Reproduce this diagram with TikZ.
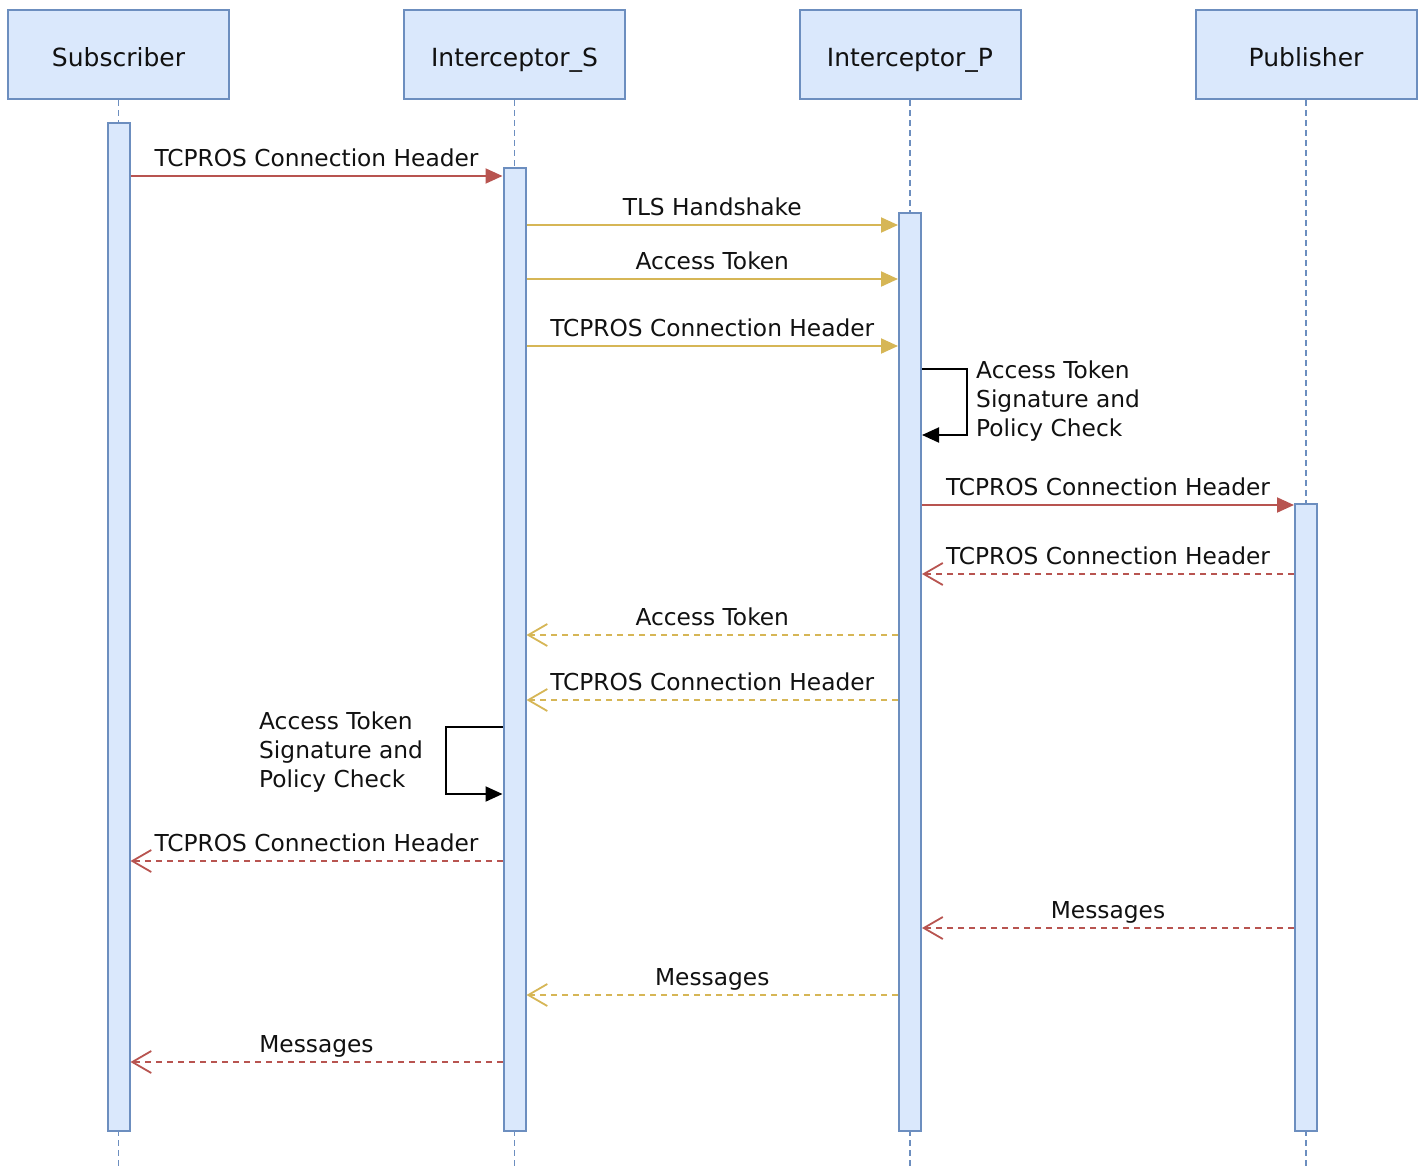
\documentclass[tikz,border=0pt]{standalone}
\usepackage{fontspec}
\setmainfont{DejaVu Sans}
\usetikzlibrary{arrows.meta}
\definecolor{boxfill}{HTML}{DAE8FC}
\definecolor{boxline}{HTML}{6C8EBF}
\definecolor{msgred}{HTML}{B85450}
\definecolor{msgyel}{HTML}{D6B656}
\definecolor{txt}{HTML}{111111}

\begin{document}
\begin{tikzpicture}[x=1pt,y=-1pt,
  actor/.style={draw=boxline, fill=boxfill, line width=2pt, minimum width=221pt,
    minimum height=89pt, inner sep=0pt, text=txt, text height=26pt, text depth=3pt,
    font=\fontsize{25}{30}\selectfont},
  actbar/.style={draw=boxline, fill=boxfill, line width=2pt, minimum width=22pt,
    inner sep=0pt, anchor=north},
  life/.style={boxline, line width=1.8pt, dash pattern=on 6pt off 4pt},
  call/.style={line width=2pt, -{Triangle[length=17pt,width=15pt]}},
  reply/.style={line width=1.8pt, dash pattern=on 6pt off 5pt,
    -{Straight Barb[length=19pt,width=22pt,line width=1.8pt]}},
  lbl/.style={font=\fontsize{23.3}{29}\selectfont, text=txt, anchor=base,
    inner sep=0pt, yshift=10pt},
  note/.style={font=\fontsize{23.3}{29}\selectfont, text=txt, align=left,
    inner sep=0pt, anchor=north west}
]
\useasboundingbox (0,0) rectangle (1421,1167);

% participants
\node[actor] (hSub) at (118.5,54.5) {Subscriber};
\node[actor] (hIS)  at (514.5,54.5) {Interceptor\_S};
\node[actor] (hIP)  at (910,54.5)   {Interceptor\_P};
\node[actor] (hPub) at (1306,54.5)  {Publisher};

% lifelines
\foreach \h in {hSub,hIS,hIP,hPub}
  \draw[life] (\h.south) -- (\h.south |- 0,1167);

% activation bars
\node[actbar, minimum height=1008pt] (barSub) at (118.5,122) {};
\node[actbar, minimum height=963pt]  (barIS)  at (514.5,167) {};
\node[actbar, minimum height=918pt]  (barIP)  at (910,212)   {};
\node[actbar, minimum height=627pt]  (barPub) at (1306,503)  {};

% requests
\draw[call, msgred] (barSub.east |- 0,176) -- node[lbl] {TCPROS Connection Header} (barIS.west |- 0,176);
\draw[call, msgyel] (barIS.east |- 0,225) -- node[lbl] {TLS Handshake} (barIP.west |- 0,225);
\draw[call, msgyel] (barIS.east |- 0,279) -- node[lbl] {Access Token} (barIP.west |- 0,279);
\draw[call, msgyel] (barIS.east |- 0,346) -- node[lbl] {TCPROS Connection Header} (barIP.west |- 0,346);

% check at Interceptor_P
\draw[call, black] (barIP.east |- 0,369) -- ++(45,0) |- (barIP.east |- 0,435);
\node[note] (chkP) at (976,361) {Access Token\\Signature and\\Policy Check};

\draw[call, msgred] (barIP.east |- 0,505) -- node[lbl] {TCPROS Connection Header} (barPub.west |- 0,505);

% replies
\draw[reply, msgred] (barPub.west |- 0,574) -- node[lbl] {TCPROS Connection Header} (barIP.east |- 0,574);
\draw[reply, msgyel] (barIP.west |- 0,635) -- node[lbl] {Access Token} (barIS.east |- 0,635);
\draw[reply, msgyel] (barIP.west |- 0,700) -- node[lbl] {TCPROS Connection Header} (barIS.east |- 0,700);

% check at Interceptor_S
\draw[call, black] (barIS.west |- 0,727) -- ++(-57,0) |- (barIS.west |- 0,794);
\node[note] (chkS) at (259,712) {Access Token\\Signature and\\Policy Check};

\draw[reply, msgred] (barIS.west |- 0,861) -- node[lbl] {TCPROS Connection Header} (barSub.east |- 0,861);

% message flow
\draw[reply, msgred] (barPub.west |- 0,928) -- node[lbl] {Messages} (barIP.east |- 0,928);
\draw[reply, msgyel] (barIP.west |- 0,995) -- node[lbl] {Messages} (barIS.east |- 0,995);
\draw[reply, msgred] (barIS.west |- 0,1062) -- node[lbl] {Messages} (barSub.east |- 0,1062);
\end{tikzpicture}
\end{document}
